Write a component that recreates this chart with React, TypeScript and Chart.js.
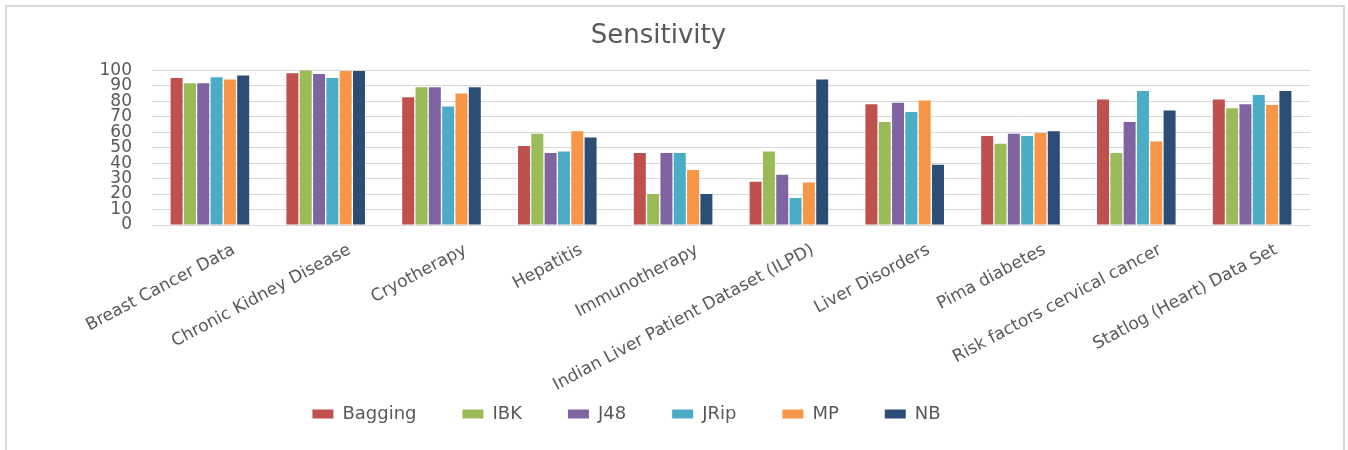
import React, { useEffect, useRef } from "react";
import { Chart, registerables } from "chart.js";

Chart.register(...registerables);

const categories = [
  "Breast Cancer Data",
  "Chronic Kidney Disease",
  "Cryotherapy",
  "Hepatitis",
  "Immunotherapy",
  "Indian Liver Patient Dataset (ILPD)",
  "Liver Disorders",
  "Pima diabetes",
  "Risk factors cervical cancer",
  "Statlog (Heart) Data Set",
];

const seriesNames = ["Bagging", "IBK", "J48", "JRip", "MP", "NB"];

const bagging = [95, 98, 82.5, 51, 46.5, 28, 78, 57.5, 81, 81];
const ibk = [91.5, 100, 89, 59, 20, 47.5, 66.5, 52.5, 46.5, 75.5];
const j48 = [91.5, 97.5, 89, 46.5, 46.5, 32.5, 79, 59, 66.5, 78];
const jrip = [95.5, 95, 76.5, 47.5, 46.5, 17.5, 73, 57.5, 86.5, 84];
const mp = [94, 99.5, 85, 60.5, 35.5, 27.5, 80.5, 59.5, 54, 77.5];
const nb = [96.5, 99.5, 89, 56.5, 20, 94, 39, 60.5, 74, 86.5];

const seriesValues = [bagging, ibk, j48, jrip, mp, nb];
const seriesColors = ["#C0504D", "#9BBB59", "#8064A2", "#4BACC6", "#F79646", "#2C4D75"];

const yMin = 0;
const yMax = 100;
const yStep = 10;

const FONT = "'DejaVu Sans', sans-serif";
const TEXT = "#595959";

export default function App() {
  const ref = useRef<HTMLCanvasElement | null>(null);

  useEffect(() => {
    if (!ref.current) return;
    const layoutTweaks = {
      id: "layoutTweaks",
      afterLayout(chart: any) {
        const lg = chart.legend;
        if (lg) {
          const c = (lg.left + lg.right) / 2;
          const d = 619.5 - c;
          lg.left += d;
          lg.right += d;
        }
        const x = chart.scales.x;
        if (x) x.bottom = chart.height;
      },
    };
    const chart = new Chart(ref.current, {
      type: "bar",
      data: {
        labels: categories,
        datasets: seriesNames.map((name, i) => ({
          label: name,
          data: seriesValues[i],
          backgroundColor: seriesColors[i],
          borderWidth: 0,
          categoryPercentage: 0.69,
          barPercentage: 0.9,
        })),
      },
      options: {
        responsive: false,
        animation: false,
        devicePixelRatio: 1,
        layout: { padding: { top: 5, left: 0, right: 33, bottom: 17 } },
        plugins: {
          title: {
            display: true,
            text: "Sensitivity",
            color: TEXT,
            font: { family: FONT, size: 26, weight: "normal", lineHeight: 1.2 },
            padding: { top: 9, bottom: 18 },
          },
          legend: {
            position: "bottom",
            labels: {
              color: TEXT,
              font: { family: FONT, size: 18 },
              boxWidth: 21,
              boxHeight: 9,
              padding: 46,
            },
          },
          tooltip: { enabled: false },
        },
        scales: {
          x: {
            grid: { display: false },
            border: { display: false },
            ticks: {
              color: TEXT,
              font: { family: FONT, size: 17 },
              minRotation: 28,
              maxRotation: 28,
              autoSkip: false,
              labelOffset: 24,
              padding: 7,
            },
            afterFit: (s: any) => {
              s.height = 134;
            },
          },
          y: {
            min: yMin,
            max: yMax,
            grid: { color: "#d9d9d9", lineWidth: 1, drawTicks: false },
            border: { display: false },
            ticks: {
              stepSize: yStep,
              autoSkip: false,
              color: TEXT,
              font: { family: FONT, size: 17, lineHeight: 0.8 },
              padding: 20,
            },
            afterFit: (s: any) => {
              s.width = 145;
            },
          },
        },
      },
      plugins: [layoutTweaks],
    });
    return () => chart.destroy();
  }, []);

  return (
    <div
      style={{
        position: "absolute",
        left: 5,
        top: 5,
        width: 1340,
        height: 445,
        boxSizing: "border-box",
        borderTop: "2px solid #d9d9d9",
        borderLeft: "2px solid #d9d9d9",
        borderRight: "2px solid #d9d9d9",
        background: "#ffffff",
        overflow: "hidden",
      }}
    >
      <canvas ref={ref} width={1336} height={443} style={{ display: "block" }} />
    </div>
  );
}
